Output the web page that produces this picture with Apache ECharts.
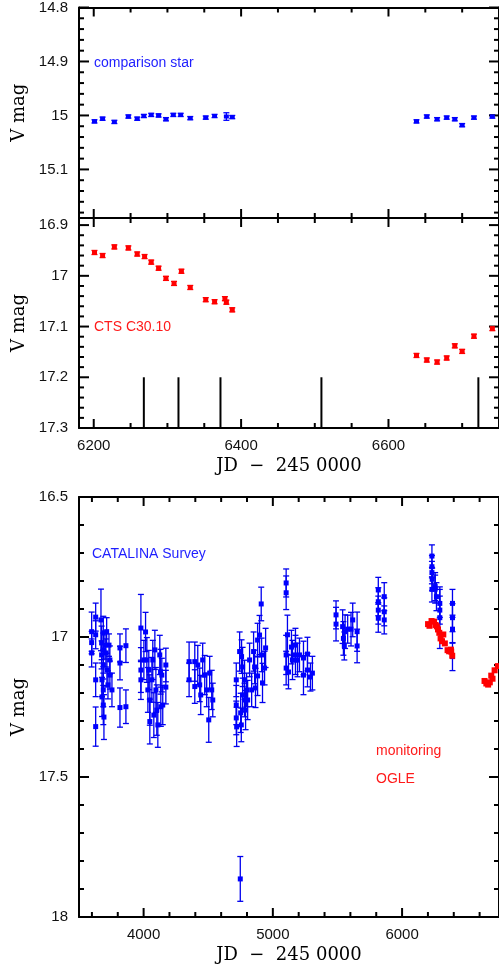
<!DOCTYPE html>
<html>
<head>
<meta charset="utf-8">
<script src="https://cdn.jsdelivr.net/npm/echarts@6/dist/echarts.min.js"></script>
<style>
html, body { margin: 0; padding: 0; background: #fff; }
#main { width: 499px; height: 969px; }
</style>
</head>
<body>
<div id="main"></div>
<script>
// comparison star, top panel
var compJD  = [6201, 6212, 6228, 6247, 6259, 6268, 6278, 6288, 6298, 6308, 6318, 6331, 6352, 6364, 6380, 6388,
               6638, 6652, 6666, 6679, 6690, 6700, 6716, 6741];
var compMag = [15.011, 15.006, 15.012, 15.002, 15.006, 15.001, 14.999, 15.000, 15.007, 14.999, 14.999, 15.005, 15.004, 15.001, 15.002, 15.003,
               15.011, 15.002, 15.007, 15.004, 15.007, 15.018, 15.004, 15.002];
var compErr = [0.003, 0.003, 0.003, 0.003, 0.003, 0.003, 0.003, 0.003, 0.003, 0.003, 0.003, 0.003, 0.003, 0.003, 0.007, 0.003,
               0.003, 0.003, 0.003, 0.003, 0.003, 0.003, 0.003, 0.003];

// CTS C30.10, OGLE monitoring
var ogleJD  = [6201, 6212, 6228, 6247, 6259, 6269, 6278, 6288, 6298, 6309, 6319, 6331, 6352, 6364, 6378, 6380, 6388,
               6638, 6652, 6666, 6679, 6690, 6700, 6716, 6741];
var ogleMag = [16.954, 16.960, 16.943, 16.945, 16.957, 16.962, 16.973, 16.985, 17.005, 17.015, 16.991, 17.023, 17.047, 17.051, 17.045, 17.052, 17.067,
               17.157, 17.166, 17.170, 17.162, 17.138, 17.149, 17.119, 17.104];
var ogleErr = [0.004, 0.004, 0.004, 0.004, 0.004, 0.004, 0.004, 0.004, 0.004, 0.004, 0.004, 0.004, 0.004, 0.004, 0.004, 0.004, 0.004,
               0.004, 0.004, 0.004, 0.004, 0.004, 0.004, 0.004, 0.004];

// spectra epochs (vertical marks from specFrom to specTo)
var specJD = [6268, 6315, 6372, 6509, 6722];
var specFrom = 17.2, specTo = 17.3;

// CATALINA survey
var catJD = [
    3598, 3598, 3598, 3629, 3629, 3629, 3629, 3670, 3675, 3675, 3678, 3678, 3688, 3688, 3688, 3688, 3688, 3693, 3701, 3708, 3714, 3716, 3724, 3732, 3739, 3739, 3755,
    3817, 3817, 3817, 3863, 3863,
    3979, 3979, 3979, 4002, 4015, 4025, 4033, 4040, 4048, 4048, 4064, 4071, 4079, 4087, 4095, 4102, 4110, 4125, 4131, 4133, 4141, 4148, 4172, 4172,
    4352, 4352, 4396, 4396, 4419, 4434, 4442, 4457, 4473, 4488, 4504, 4511, 4527, 4535,
    4717, 4717, 4717, 4720, 4743, 4748, 4751, 4756, 4758, 4766, 4766, 4781, 4781, 4789, 4797, 4805, 4820, 4836, 4851, 4859, 4866, 4882, 4882, 4897, 4910, 4913, 4920, 4936, 4944,
    5103, 5103, 5103, 5103, 5113, 5121, 5144, 5152, 5175, 5175, 5191, 5206, 5237, 5237, 5268, 5268, 5291, 5306,
    5489, 5489, 5540, 5546, 5553, 5559, 5579, 5605, 5618, 5652, 5652,
    5816, 5816, 5816, 5816, 5862, 5862, 5862,
    6231, 6231, 6231, 6233, 6231, 6256, 6256, 6266, 6292, 6292, 6292, 6390, 6390, 6390, 6390
];
var catMag = [
    16.981, 17.020, 17.057, 16.929, 16.992, 17.153, 17.320, 16.939, 17.021, 17.064, 17.153, 17.214, 16.986, 17.046, 17.100, 17.189, 17.243, 17.286, 17.029, 17.057, 16.981, 17.118, 17.171, 17.029, 17.082, 17.136, 17.189,
    17.039, 17.093, 17.252, 17.031, 17.249,
    16.968, 17.118, 17.153, 17.082, 16.982, 17.082, 17.189, 17.118, 17.225, 17.302, 17.153, 17.082, 17.279, 17.046, 17.189, 17.261, 17.314, 17.064, 17.124, 17.249, 17.136, 17.243, 17.100, 17.179,
    17.088, 17.153, 17.088, 17.177, 17.100, 17.171, 17.207, 17.082, 17.136, 17.189, 17.296, 17.129, 17.189, 17.225,
    17.153, 17.243, 17.289, 17.321, 17.052, 17.864, 17.271, 17.314, 17.070, 17.107, 17.207, 17.153, 17.225, 17.261, 17.189, 17.225, 17.082, 17.189, 17.052, 17.107, 17.182, 17.011, 17.139, 16.993, 16.882, 17.064, 17.164, 17.111, 17.039,
    16.807, 16.842, 17.064, 17.111, 16.992, 17.125, 17.036, 17.082, 17.029, 17.064, 17.082, 17.064, 17.075, 17.136, 17.061, 17.118, 17.143, 17.129,
    16.921, 16.954, 16.963, 17.005, 17.032, 16.981, 16.972, 16.972, 16.939, 16.981, 17.032,
    16.832, 16.874, 16.904, 16.933, 16.856, 16.910, 16.939,
    16.711, 16.749, 16.770, 16.794, 16.830, 16.820, 16.829, 16.856, 16.880, 16.904, 16.931, 16.880, 16.931, 16.972, 17.070
];
var catErr = [
    0.07, 0.04, 0.05, 0.05, 0.05, 0.06, 0.07, 0.11, 0.06, 0.05, 0.06, 0.07, 0.06, 0.06, 0.05, 0.06, 0.07, 0.08, 0.05, 0.05, 0.05, 0.06, 0.05, 0.04, 0.05, 0.05, 0.06,
    0.05, 0.06, 0.07, 0.06, 0.06,
    0.12, 0.08, 0.07, 0.07, 0.07, 0.08, 0.08, 0.07, 0.09, 0.08, 0.08, 0.07, 0.08, 0.07, 0.08, 0.09, 0.08, 0.07, 0.08, 0.07, 0.06, 0.07, 0.06, 0.06,
    0.07, 0.06, 0.07, 0.06, 0.07, 0.06, 0.07, 0.06, 0.07, 0.06, 0.08, 0.06, 0.07, 0.06,
    0.06, 0.07, 0.06, 0.07, 0.07, 0.08, 0.07, 0.06, 0.06, 0.07, 0.06, 0.07, 0.06, 0.07, 0.06, 0.07, 0.06, 0.06, 0.07, 0.06, 0.07, 0.06, 0.07, 0.07, 0.06, 0.06, 0.07, 0.06, 0.07,
    0.05, 0.06, 0.07, 0.06, 0.07, 0.06, 0.06, 0.07, 0.06, 0.07, 0.06, 0.06, 0.06, 0.07, 0.06, 0.06, 0.05, 0.06,
    0.05, 0.06, 0.06, 0.06, 0.05, 0.06, 0.05, 0.06, 0.06, 0.07, 0.06,
    0.045, 0.05, 0.05, 0.05, 0.05, 0.05, 0.05,
    0.04, 0.04, 0.04, 0.04, 0.045, 0.05, 0.05, 0.05, 0.05, 0.05, 0.11, 0.05, 0.05, 0.05, 0.05
];

// tick labels
var zoomTicks = [6200, 6400, 6600];
var longTicks = [4000, 5000, 6000];
var compTicks = [14.8, 14.9, 15, 15.1];
var ogleTicks = [16.9, 17, 17.1, 17.2, 17.3];
var catTicks  = [16.5, 17, 17.5, 18];

// axis ranges of the three panels
var panelX = [[6180, 6750], [6180, 6750], [3500, 6750]];
var panelY = [[14.8, 15.19], [16.886, 17.3], [16.5, 18]];

var sans = 'Liberation Sans';
var serif = 'DejaVu Serif';
var BLUE = '#0000ff';
var RED = '#ff0000';
var JDNAME = 'JD  \u2212  245 0000';

// minor tick positions between the labelled ones
function minors(from, to, step, majors) {
    var out = [];
    for (var v = from; v <= to + 1e-9; v += step) {
        var r = Math.round(v * 1000) / 1000;
        if (majors.indexOf(r) < 0) out.push(r);
    }
    return out;
}

function rows(a, b, c) {
    var out = [];
    for (var i = 0; i < a.length; i++) {
        out.push([a[i], b[i], c ? c[i] : 0]);
    }
    return out;
}

function axis(dim, grid, pos, labels, vals, name, gap) {
    var range = dim == 'x' ? panelX[grid] : panelY[grid];
    var ax = {
        type: 'value',
        gridIndex: grid,
        min: range[0],
        max: range[1],
        position: pos,
        axisLine: { show: true, onZero: false, lineStyle: { color: '#000', width: 2 } },
        axisTick: { show: false },
        axisLabel: {
            show: labels,
            customValues: vals,
            margin: dim == 'x' ? 10 : 11,
            color: '#111',
            fontFamily: sans,
            fontSize: 15,
            formatter: function (v) { return String(v); }
        },
        splitLine: { show: false },
        name: name || '',
        nameLocation: 'middle',
        nameGap: gap || 0,
        nameTextStyle: { fontFamily: serif, fontSize: 18, color: '#000' }
    };
    if (dim == 'y') ax.inverse = true;
    return ax;
}

function xAxes(grid, majors, labels, name) {
    return [
        axis('x', grid, 'bottom', labels, majors, name, 29),
        axis('x', grid, 'top', false, majors)
    ];
}

function yAxes(grid, majors) {
    return [
        axis('y', grid, 'left', true, majors, 'V mag', 51),
        axis('y', grid, 'right', false, majors)
    ];
}

function errBar(color, cap, width) {
    return function (params, api) {
        var x = api.value(0), y = api.value(1), e = api.value(2);
        var a = api.coord([x, y - e]);
        var b = api.coord([x, y + e]);
        var s = { stroke: color, lineWidth: width };
        return {
            type: 'group',
            children: [
                { type: 'line', shape: { x1: a[0], y1: a[1], x2: b[0], y2: b[1] }, style: s },
                { type: 'line', shape: { x1: a[0] - cap, y1: a[1], x2: a[0] + cap, y2: a[1] }, style: s },
                { type: 'line', shape: { x1: b[0] - cap, y1: b[1], x2: b[0] + cap, y2: b[1] }, style: s }
            ]
        };
    };
}

function specMark(params, api) {
    var jd = api.value(0);
    var a = api.coord([jd, specFrom]);
    var b = api.coord([jd, specTo]);
    return { type: 'line', shape: { x1: a[0], y1: a[1], x2: b[0], y2: b[1] }, style: { stroke: '#000', lineWidth: 2 } };
}

// inward axis ticks, drawn like the spectrum marks: a line between two data points
function tickMark(params, api) {
    var a = api.coord([api.value(0), api.value(1)]);
    var b = api.coord([api.value(2), api.value(3)]);
    var dx = b[0] - a[0], dy = b[1] - a[1];
    var n = Math.sqrt(dx * dx + dy * dy) || 1;
    var len = api.value(4);
    return {
        type: 'line',
        shape: { x1: a[0], y1: a[1], x2: a[0] + dx / n * len, y2: a[1] + dy / n * len },
        style: { stroke: '#000', lineWidth: 2 }
    };
}

function bars(grid, data, color, cap, width) {
    return {
        type: 'custom', xAxisIndex: grid * 2, yAxisIndex: grid * 2,
        renderItem: errBar(color, cap, width), data: data, encode: { x: 0, y: 1 }, silent: true, z: 2
    };
}

function dots(grid, data, color, size) {
    return {
        type: 'scatter', xAxisIndex: grid * 2, yAxisIndex: grid * 2,
        symbol: 'rect', symbolSize: size, data: data, itemStyle: { color: color, opacity: 1 }, silent: true, z: 3
    };
}

function label(text, left, top, color) {
    return { type: 'text', left: left, top: top, style: { text: text, fill: color, font: '14px "' + sans + '"' } };
}

var compData = rows(compJD, compMag, compErr);
var ogleData = rows(ogleJD, ogleMag, ogleErr);
var catData = rows(catJD, catMag, catErr);
var specData = rows(specJD, specJD);

// tick rows: [from x, from y, toward x, toward y, length px]
var majX = [zoomTicks, zoomTicks, longTicks];
var minX = [minors(6200, 6750, 50, zoomTicks), minors(6200, 6750, 50, zoomTicks), minors(3600, 6600, 200, longTicks)];
var majY = [compTicks, ogleTicks, catTicks];
var minY = [minors(14.8, 15.18, 0.02, compTicks), minors(16.9, 17.3, 0.02, ogleTicks), minors(16.5, 18, 0.1, catTicks)];

function tickRows(g) {
    var xr = panelX[g], yr = panelY[g], out = [];
    var sets = [[majX[g], 9, 'x'], [minX[g], 5, 'x'], [majY[g], 10, 'y'], [minY[g], 5, 'y']];
    for (var k = 0; k < sets.length; k++) {
        var vals = sets[k][0], len = sets[k][1];
        for (var i = 0; i < vals.length; i++) {
            var v = vals[i];
            if (sets[k][2] == 'x') {
                out.push([v, yr[1], v, yr[0], len]);
                out.push([v, yr[0], v, yr[1], len]);
            } else {
                out.push([xr[0], v, xr[1], v, len]);
                out.push([xr[1], v, xr[0], v, len]);
            }
        }
    }
    return out;
}

var series = [
    bars(0, compData, BLUE, 3, 1.3),
    dots(0, compData, BLUE, [5, 4]),
    bars(1, ogleData, RED, 3, 1.3),
    dots(1, ogleData, RED, [5, 5]),
    {
        type: 'custom', xAxisIndex: 2, yAxisIndex: 2,
        renderItem: specMark, data: specData, encode: { x: 0 }, silent: true, z: 2
    },
    bars(2, catData, '#0000ee', 3, 1.3),
    dots(2, catData, BLUE, [5, 5]),
    bars(2, ogleData, RED, 2, 1),
    dots(2, ogleData, RED, [6, 6])
];
for (var g = 0; g < 3; g++) {
    series.push({
        type: 'custom', xAxisIndex: g * 2, yAxisIndex: g * 2,
        renderItem: tickMark, data: tickRows(g), encode: { x: 0 }, silent: true, z: 2
    });
}

var myChart = echarts.init(document.getElementById('main'));
myChart.setOption({
    animation: false,
    backgroundColor: '#fff',
    grid: [
        { left: 79, top: 7, width: 421, height: 211 },
        { left: 79, top: 218, width: 421, height: 210 },
        { left: 79, top: 497, width: 421, height: 420 }
    ],
    xAxis: [].concat(
        xAxes(0, zoomTicks, false),
        xAxes(1, zoomTicks, true, JDNAME),
        xAxes(2, longTicks, true, JDNAME)
    ),
    yAxis: [].concat(
        yAxes(0, compTicks),
        yAxes(1, ogleTicks),
        yAxes(2, catTicks)
    ),
    graphic: [
        label('comparison star', 94, 56, '#1e1eff'),
        label('CTS C30.10', 94, 320, '#ff1a1a'),
        label('CATALINA Survey', 92, 547, '#1e1eff'),
        label('monitoring', 376, 744, '#ff1a1a'),
        label('OGLE', 376, 772, '#ff1a1a')
    ],
    series: series
});
</script>
</body>
</html>
